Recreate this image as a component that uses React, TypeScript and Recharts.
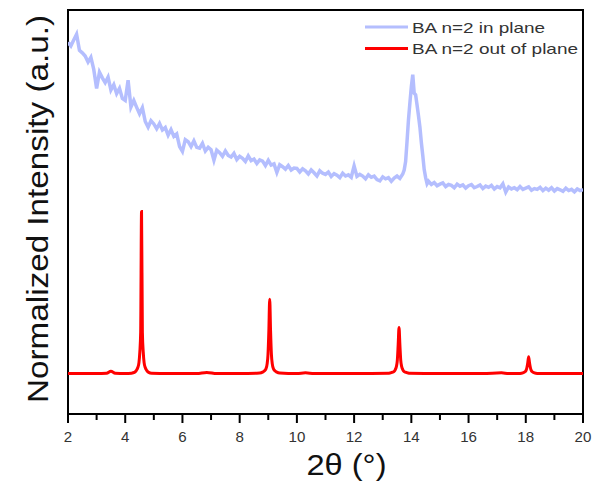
import React from 'react';
import {
  LineChart,
  Line,
  XAxis,
  YAxis,
  ReferenceArea,
  Legend,
  Label
} from 'recharts';

// 2θ positions (degrees) and intensities
const inPlaneX = [
  2.0, 2.1, 2.2, 2.3, 2.4, 2.5, 2.6, 2.7, 2.8, 2.9,
  3.0, 3.1, 3.2, 3.3, 3.4, 3.5, 3.6, 3.7, 3.8, 3.9,
  4.0, 4.1, 4.2, 4.3, 4.4, 4.5, 4.6, 4.7, 4.8, 4.9,
  5.0, 5.1, 5.2, 5.3, 5.4, 5.5, 5.6, 5.7, 5.8, 5.9,
  6.0, 6.1, 6.2, 6.3, 6.4, 6.5, 6.6, 6.7, 6.8, 6.9,
  7.0, 7.1, 7.2, 7.3, 7.4, 7.5, 7.6, 7.7, 7.8, 7.9,
  8.0, 8.1, 8.2, 8.3, 8.4, 8.5, 8.6, 8.7, 8.8, 8.9,
  9.0, 9.1, 9.2, 9.3, 9.4, 9.5, 9.6, 9.7, 9.8, 9.9,
  10.0, 10.1, 10.2, 10.3, 10.4, 10.5, 10.6, 10.7, 10.8, 10.9,
  11.0, 11.1, 11.2, 11.3, 11.4, 11.5, 11.6, 11.7, 11.8, 11.9,
  12.0, 12.1, 12.2, 12.3, 12.4, 12.5, 12.6, 12.7, 12.8, 12.9,
  13.0, 13.1, 13.2, 13.3, 13.4, 13.5, 13.6, 13.7, 13.75, 13.8,
  13.85, 13.9, 13.95, 14.0, 14.05, 14.1, 14.15, 14.2, 14.25, 14.3,
  14.35, 14.4, 14.45, 14.5, 14.55, 14.6, 14.7, 14.8, 14.9,
  15.0, 15.1, 15.2, 15.3, 15.4, 15.5, 15.6, 15.7, 15.8, 15.9,
  16.0, 16.1, 16.2, 16.3, 16.4, 16.5, 16.6, 16.7, 16.8, 16.9,
  17.0, 17.1, 17.2, 17.3, 17.4, 17.5, 17.6, 17.7, 17.8, 17.9,
  18.0, 18.1, 18.2, 18.3, 18.4, 18.5, 18.6, 18.7, 18.8, 18.9,
  19.0, 19.1, 19.2, 19.3, 19.4, 19.5, 19.6, 19.7, 19.8, 19.9,
  20.0
];
const inPlaneY = [
  92.0, 91.1, 92.6, 94.0, 90.0, 89.4, 88.6, 87.1, 88.3, 85.3,
  80.6, 84.6, 83.2, 82.0, 83.4, 80.2, 81.5, 79.3, 80.6, 78.1,
  77.6, 82.6, 76.0, 77.6, 75.9, 74.3, 75.8, 72.4, 71.0, 72.6,
  71.8, 70.6, 71.9, 70.3, 70.9, 69.0, 70.4, 68.7, 69.3, 66.2,
  65.0, 67.9, 67.4, 66.2, 67.6, 66.0, 65.8, 67.0, 65.1, 66.0,
  65.4, 62.8, 65.3, 64.7, 63.8, 65.1, 64.0, 63.6, 64.5, 63.0,
  63.8, 63.3, 62.5, 63.9, 62.7, 63.1, 62.0, 62.9, 62.6, 61.5,
  62.8, 61.6, 61.9, 59.8, 61.7, 61.2, 60.6, 61.5, 60.4, 60.9,
  60.8, 59.9, 60.7, 60.2, 59.4, 60.4, 59.7, 58.9, 60.2, 59.6,
  59.3, 59.9, 58.8, 59.5, 59.1, 58.5, 59.6, 58.9, 59.2, 58.6,
  61.4, 58.8, 59.3, 58.9, 58.2, 59.2, 58.6, 58.9, 58.0, 57.7,
  58.7, 58.2, 58.5, 57.6, 58.4, 58.9, 58.3, 59.4, 60.4, 62.5,
  67.5, 72.8, 77.0, 81.0, 84.0, 79.4, 79.0, 76.5, 73.8, 71.0,
  67.2, 64.0, 60.5, 58.5, 57.0, 57.6, 56.8, 57.3, 56.5,
  56.9, 57.2, 56.3, 56.8, 56.6, 56.0, 56.9, 56.4, 56.7, 55.9,
  56.5, 56.8, 56.0, 56.3, 56.7, 55.8, 56.4, 56.1, 56.6, 55.7,
  56.3, 56.0, 57.0, 54.9, 56.2, 55.7, 56.0, 55.5, 56.3, 55.6,
  55.9, 56.2, 55.4, 55.8, 55.6, 56.1, 55.3, 55.9, 55.4, 56.0,
  55.2, 55.8, 55.5, 55.1, 55.9, 55.3, 55.6, 55.0, 55.7, 55.3,
  55.5
];

const outPlaneX = [
  2.0, 2.5, 3.0, 3.35, 3.5, 3.65, 4.0,
  4.22, 4.32, 4.39, 4.44, 4.48, 4.51, 4.54, 4.57, 4.6, 4.63, 4.66, 4.7, 4.75, 4.82, 4.92,
  5.5, 6.5, 6.85, 7.2, 8.0,
  8.7, 8.8, 8.87, 8.92, 8.96, 8.99, 9.02, 9.05, 9.08, 9.11, 9.14, 9.18, 9.23, 9.3, 9.4,
  10.0, 10.3, 10.6, 12.0,
  13.22, 13.32, 13.39, 13.44, 13.48, 13.51, 13.54, 13.57, 13.6, 13.63, 13.66, 13.7, 13.75, 13.82, 13.92,
  15.0, 16.5, 17.15, 17.4,
  17.8, 17.9, 17.97, 18.01, 18.04, 18.07, 18.1, 18.13, 18.16, 18.19, 18.23, 18.3, 18.4,
  19.0, 20.0
];
const outPlaneY = [
  10.0, 10.0, 10.0, 10.1, 10.6, 10.1, 10.0,
  10.1, 10.3, 10.8, 11.5, 12.7, 15.3, 20.2, 50.1, 20.2, 15.3, 12.7, 11.5, 10.8, 10.3, 10.1,
  10.0, 10.0, 10.3, 10.0, 10.0,
  10.15, 10.35, 10.7, 11.2, 12.4, 14.7, 20.6, 28.4, 20.6, 14.7, 12.4, 11.2, 10.7, 10.35, 10.15,
  10.0, 10.2, 10.0, 10.0,
  10.1, 10.3, 10.5, 11.0, 11.8, 13.3, 17.1, 21.4, 17.1, 13.3, 11.8, 11.0, 10.5, 10.3, 10.1,
  10.0, 10.0, 10.2, 10.0,
  10.05, 10.2, 10.45, 10.8, 11.5, 12.7, 14.2, 12.7, 11.5, 10.8, 10.45, 10.2, 10.05,
  10.0, 10.0
];

const seriesNames = ['BA n=2 in plane', 'BA n=2 out of plane'];
const seriesColors = ['#b4befe', '#ff0000'];
const xTicks = [2, 3, 4, 5, 6, 7, 8, 9, 10, 11, 12, 13, 14, 15, 16, 17, 18, 19, 20];

const inPlaneData = inPlaneX.map((x, i) => ({ x, y: inPlaneY[i] }));
const outPlaneData = outPlaneX.map((x, i) => ({ x, y: outPlaneY[i] }));

const sans = '"Liberation Sans", Arial, sans-serif';

const AxisTick = (props: any) => {
  const { x, y, payload } = props;
  const major = payload.value % 2 === 0;
  const label = String(payload.value);
  return (
    <g>
      <line x1={x} x2={x} y1={y} y2={y + (major ? 9 : 6)} stroke="#000" strokeWidth={2} />
      {major && (
        <text
          x={x}
          y={y + 28}
          textAnchor="middle"
          fontFamily={sans}
          fontSize={14}
          fill="#333"
          textLength={label.length * 8.4}
          lengthAdjust="spacingAndGlyphs"
        >
          {label}
        </text>
      )}
    </g>
  );
};

const XTitle = (props: any) => {
  const { viewBox } = props;
  const cx = viewBox.x + viewBox.width / 2 + 21;
  return (
    <text
      x={cx}
      y={475}
      textAnchor="middle"
      fontFamily={sans}
      fontSize={30}
      fill="#111"
      textLength={80}
      lengthAdjust="spacingAndGlyphs"
    >
      2θ (°)
    </text>
  );
};

const YTitle = () => (
  <text
    x={0}
    y={0}
    transform="translate(48, 209) rotate(-90)"
    textAnchor="middle"
    fontFamily={sans}
    fontSize={29}
    fill="#111"
    textLength={388}
    lengthAdjust="spacingAndGlyphs"
  >
    Normalized Intensity (a.u.)
  </text>
);

const LegendBox = () => (
  <svg width={230} height={60}>
    {seriesNames.map((name, i) => (
      <g key={name}>
        <line x1={5} x2={48} y1={27 + i * 21.5} y2={27 + i * 21.5} stroke={seriesColors[i]} strokeWidth={3} />
        <text
          x={52}
          y={32.5 + i * 21.5}
          fontFamily={sans}
          fontSize={15}
          fill="#333"
          textLength={i === 0 ? 133 : 166}
          lengthAdjust="spacingAndGlyphs"
        >
          {name}
        </text>
      </g>
    ))}
  </svg>
);

export default function App() {
  return (
    <div style={{ position: 'absolute', left: 0, top: 0, background: '#fff' }}>
      <LineChart width={596} height={487} margin={{ top: 10, right: 13, bottom: 0, left: 0 }}>
        <XAxis
          type="number"
          dataKey="x"
          domain={[2, 20]}
          ticks={xTicks}
          interval={0}
          height={73}
          tickSize={0}
          tickMargin={0}
          tickLine={false}
          axisLine={{ stroke: '#000', strokeWidth: 2 }}
          tick={<AxisTick />}
          allowDataOverflow
        >
          <Label content={<XTitle />} />
        </XAxis>
        <YAxis
          type="number"
          domain={[0, 100]}
          width={68}
          tick={false}
          tickLine={false}
          axisLine={false}
          allowDataOverflow
        >
          <Label content={<YTitle />} />
        </YAxis>
        <ReferenceArea x1={2} x2={20} y1={0} y2={100} fill="none" stroke="#000" strokeWidth={2} />
        <Line
          data={inPlaneData}
          dataKey="y"
          name={seriesNames[0]}
          type="linear"
          stroke={seriesColors[0]}
          strokeWidth={3.5}
          dot={false}
          isAnimationActive={false}
        />
        <Line
          data={outPlaneData}
          dataKey="y"
          name={seriesNames[1]}
          type="monotone"
          stroke={seriesColors[1]}
          strokeWidth={3}
          dot={false}
          isAnimationActive={false}
        />
        <Legend
          layout="vertical"
          align="center"
          verticalAlign="middle"
          content={<LegendBox />}
          wrapperStyle={{ top: 0, left: 360, width: 230, height: 60 }}
        />
      </LineChart>
    </div>
  );
}
